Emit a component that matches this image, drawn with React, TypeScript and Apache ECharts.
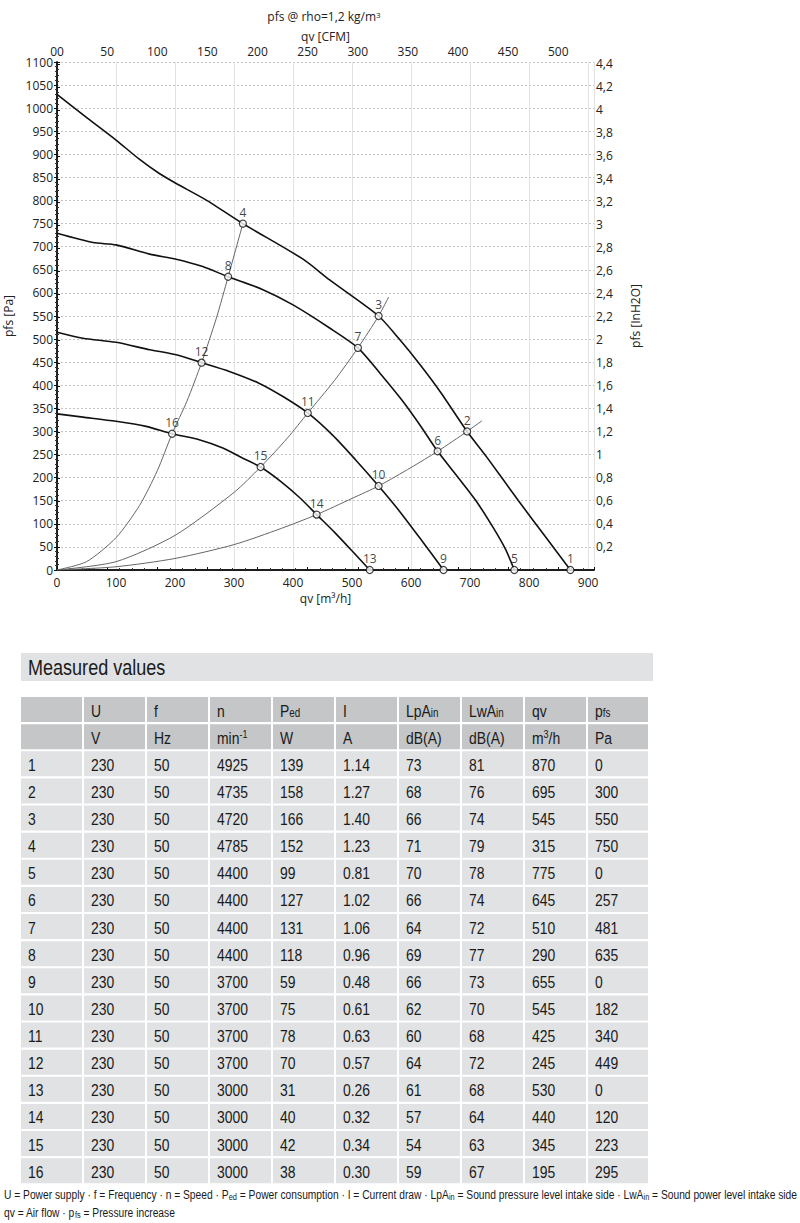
import React, { useEffect, useRef } from "react";
import * as echarts from "echarts";

// ---------- measured values (table) ----------
const pointIds = [1, 2, 3, 4, 5, 6, 7, 8, 9, 10, 11, 12, 13, 14, 15, 16];
const voltage = [230, 230, 230, 230, 230, 230, 230, 230, 230, 230, 230, 230, 230, 230, 230, 230];
const freq = [50, 50, 50, 50, 50, 50, 50, 50, 50, 50, 50, 50, 50, 50, 50, 50];
const speed = [4925, 4735, 4720, 4785, 4400, 4400, 4400, 4400, 3700, 3700, 3700, 3700, 3000, 3000, 3000, 3000];
const powerIn = [139, 158, 166, 152, 99, 127, 131, 118, 59, 75, 78, 70, 31, 40, 42, 38];
const current = ["1.14", "1.27", "1.40", "1.23", "0.81", "1.02", "1.06", "0.96", "0.48", "0.61", "0.63", "0.57", "0.26", "0.32", "0.34", "0.30"];
const lpaIn = [73, 68, 66, 71, 70, 66, 64, 69, 66, 62, 60, 64, 61, 57, 54, 59];
const lwaIn = [81, 76, 74, 79, 78, 74, 72, 77, 73, 70, 68, 72, 68, 64, 63, 67];
const airflow = [870, 695, 545, 315, 775, 645, 510, 290, 655, 545, 425, 245, 530, 440, 345, 195];
const pressure = [0, 300, 550, 750, 0, 257, 481, 635, 0, 182, 340, 449, 0, 120, 223, 295];

const headerNames = ["", "U", "f", "n", "P{s|ed}", "I", "LpA{s|in}", "LwA{s|in}", "qv", "p{s|fs}"];
const headerUnits = ["", "V", "Hz", "min{u|-1}", "W", "A", "dB(A)", "dB(A)", "m{u|3}/h", "Pa"];

// ---------- fan curves [qv m3/h, pfs Pa] ----------
const curve4925: number[][] = [
  [0, 1030], [52, 978], [100, 931], [140, 889], [174, 858], [202, 837], [253, 801], [315, 750],
  [417, 673], [462, 628], [545, 550], [580, 500], [615, 445], [650, 385], [695, 300], [728, 245],
  [782, 150], [830, 68], [870, 0],
];
const curve4400: number[][] = [
  [0, 729], [61, 709], [100, 704], [157, 684], [202, 673], [247, 657], [290, 635], [349, 607],
  [400, 574], [462, 524], [510, 481], [548, 425], [585, 367], [615, 314], [645, 257], [680, 200],
  [710, 150], [740, 90], [760, 45], [775, 0],
];
const curve3700: number[][] = [
  [0, 515], [44, 502], [100, 493], [157, 477], [202, 466], [245, 449], [292, 430], [343, 404],
  [385, 374], [425, 340], [467, 292], [505, 240], [545, 182], [580, 128], [618, 64], [655, 0],
];
const curve3000: number[][] = [
  [0, 338], [44, 331], [100, 322], [151, 311], [195, 295], [241, 282], [281, 264], [315, 242],
  [345, 223], [380, 191], [411, 157], [440, 120], [470, 82], [501, 40], [530, 0],
];
// system (resistance) curves
const system1: number[][] = [
  [0, 0], [50, 18], [100, 70], [140, 140], [170, 215], [195, 295], [220, 365], [245, 449], [270, 545], [290, 635], [315, 750],
];
const system2: number[][] = [
  [0, 0], [100, 18], [200, 75], [300, 168], [345, 223], [390, 285], [425, 340], [470, 410], [510, 481], [545, 550], [562, 591],
];
const system3: number[][] = [
  [0, 0], [100, 7], [200, 25], [300, 55], [380, 90], [440, 120], [500, 155], [545, 182], [600, 222], [645, 257], [695, 300], [720, 323],
];

const xTicksM3h = [0, 100, 200, 300, 400, 500, 600, 700, 800, 900];
const QV_MAX = 910;
const P_MAX = 1100;
const CFM_PER_M3H = 1 / 1.699;
const PA_PER_INH2O = 249.09;

const CHART_FONT = '"Open Sans", "Noto Sans", sans-serif';
const TABLE_FONT = '"Liberation Sans", Arial, sans-serif';
const NARROW = 0.82;

function isMultiple(v: number, step: number) {
  const r = v / step;
  return Math.abs(r - Math.round(r)) < 1e-6;
}

function narrowText(x: number, y: number, text: string, fontSize: number, rich?: any): any {
  return {
    type: "text", x, y, scaleX: NARROW, scaleY: 1,
    style: { text, fontSize, fontFamily: TABLE_FONT, fill: "#1a1a1a", verticalAlign: "middle", rich },
  };
}

function buildTable(): any[] {
  const els: any[] = [];
  const colX = [21, 84, 147, 210, 273, 336, 399, 462, 525, 588];
  const colW = 61;
  const rowY = (r: number) => 697 + r * 27.13;
  const rowH = 25;
  const rich = {
    s: { fontSize: 12, fontFamily: TABLE_FONT, fill: "#1a1a1a", verticalAlign: "bottom" },
    u: { fontSize: 11, fontFamily: TABLE_FONT, fill: "#1a1a1a", verticalAlign: "top" },
  };
  // title bar
  els.push({ type: "rect", shape: { x: 21, y: 653, width: 632, height: 28 }, style: { fill: "#e1e2e3" } });
  els.push(narrowText(28, 667, "Measured values", 22));
  const rows: string[][] = [headerNames, headerUnits];
  for (let i = 0; i < pointIds.length; i++) {
    rows.push([
      String(pointIds[i]), String(voltage[i]), String(freq[i]), String(speed[i]), String(powerIn[i]),
      current[i], String(lpaIn[i]), String(lwaIn[i]), String(airflow[i]), String(pressure[i]),
    ]);
  }
  rows.forEach((row, r) => {
    row.forEach((txt, c) => {
      els.push({
        type: "rect",
        shape: { x: colX[c], y: rowY(r), width: c === 9 ? 60 : colW, height: rowH },
        style: { fill: r < 2 ? "#c4c6c8" : "#e1e2e3" },
      });
      if (txt) els.push(narrowText(colX[c] + 7, rowY(r) + rowH / 2 + 1, txt, 17, rich));
    });
  });
  // footnotes
  const footRich = { s: { fontSize: 9, fontFamily: TABLE_FONT, fill: "#1a1a1a", verticalAlign: "bottom" } };
  els.push(narrowText(4, 1195,
    "U = Power supply · f = Frequency · n = Speed · P{s|ed} = Power consumption · I = Current draw · LpA{s|in} = Sound pressure level intake side · LwA{s|in} = Sound power level intake side",
    12.5, footRich));
  els.push(narrowText(4, 1213, "qv = Air flow · p{s|fs} = Pressure increase", 12.5, footRich));
  // chart title
  els.push({
    type: "text", x: 324, y: 16,
    style: {
      text: "pfs @ rho=1,2 kg/m{u|3}", fontSize: 12, fontFamily: CHART_FONT, fill: "#222",
      align: "center", verticalAlign: "middle",
      rich: { u: { fontSize: 8, fontFamily: CHART_FONT, fill: "#222", verticalAlign: "top" } },
    },
  });
  return els;
}

export default function App() {
  const ref = useRef<HTMLDivElement>(null);
  useEffect(() => {
    document.body.style.margin = "0";
    const chart = echarts.init(ref.current!, null, { renderer: "svg" });
    const axisText = { fontSize: 12, fontFamily: CHART_FONT, color: "#222" };
    const blackLine = { show: true, lineStyle: { color: "#111", width: 1.5 } };
    const speedLine = (data: number[][]) => ({
      type: "line", data, smooth: 0.25, symbol: "none", silent: true, z: 3,
      lineStyle: { color: "#111", width: 1.6 },
    });
    const sysLine = (data: number[][]) => ({
      type: "line", data, smooth: 0.25, symbol: "none", silent: true, z: 2,
      lineStyle: { color: "#666", width: 1 },
    });
    chart.setOption({
      animation: false,
      grid: { left: 57, top: 62, width: 537, height: 508, containLabel: false, outerBoundsMode: "none" },
      xAxis: [
        {
          type: "value", position: "bottom", min: 0, max: QV_MAX, interval: 100,
          axisLine: blackLine, axisTick: { show: false },
          axisLabel: { ...axisText, margin: 6, formatter: (v: number) => (xTicksM3h.includes(v) ? String(v) : "") },
          splitLine: { show: true, lineStyle: { color: "#e2e2e2", width: 1 } },
          name: "qv [m³/h]", nameLocation: "middle", nameGap: 22, nameTextStyle: axisText,
        },
        {
          type: "value", position: "top", min: 0, max: QV_MAX * CFM_PER_M3H, interval: 50,
          axisLine: blackLine,
          axisTick: { show: true, length: 3, lineStyle: { color: "#111" } },
          minorTick: { show: true, splitNumber: 4, length: 2, lineStyle: { color: "#333" } },
          axisLabel: {
            ...axisText, margin: 5, lineHeight: 12,
            formatter: (v: number) => (v === 0 ? "00" : isMultiple(v, 50) ? String(v) : ""),
          },
          splitLine: { show: false },
          name: "qv [CFM]", nameLocation: "middle", nameGap: 20, nameTextStyle: axisText,
        },
      ],
      yAxis: [
        {
          type: "value", position: "left", min: 0, max: P_MAX, interval: 50,
          axisLine: blackLine,
          axisTick: { show: true, length: 3, lineStyle: { color: "#111" } },
          minorTick: { show: true, splitNumber: 5, length: 2, lineStyle: { color: "#333" } },
          axisLabel: { ...axisText, margin: 4, lineHeight: 12, formatter: (v: number) => String(v) },
          splitLine: { show: true, lineStyle: { color: "#c4c4c4", width: 1, type: [2, 2] } },
          name: "pfs [Pa]", nameLocation: "middle", nameGap: 42, nameRotate: 90, nameTextStyle: axisText,
        },
        {
          type: "value", position: "right", min: 0, max: P_MAX / PA_PER_INH2O, interval: 0.2,
          axisLine: blackLine,
          axisTick: { show: true, length: 3, lineStyle: { color: "#111" } },
          minorTick: { show: true, splitNumber: 4, length: 2, lineStyle: { color: "#333" } },
          axisLabel: {
            ...axisText, margin: 2,
            formatter: (v: number) => (v === 0 || !isMultiple(v, 0.2) ? "" : String(Math.round(v * 10) / 10).replace(".", ",")),
          },
          splitLine: { show: false },
          name: "pfs [InH2O]", nameLocation: "middle", nameGap: 35, nameRotate: 90, nameTextStyle: axisText,
        },
      ],
      series: [
        sysLine(system1), sysLine(system2), sysLine(system3),
        speedLine(curve4925), speedLine(curve4400), speedLine(curve3700), speedLine(curve3000),
        {
          type: "scatter", z: 5, silent: true,
          data: pointIds.map((id, i) => [airflow[i], pressure[i], id]),
          symbol: "circle", symbolSize: 7,
          itemStyle: { color: "#fff", borderColor: "#111", borderWidth: 1.2 },
          label: {
            show: true, position: "top", distance: 1, fontSize: 12, fontFamily: CHART_FONT,
            color: "#111", textBorderWidth: 0,
            formatter: (p: any) => String(p.value[2]),
          },
        },
      ],
      graphic: buildTable(),
    });
    return () => chart.dispose();
  }, []);
  return <div ref={ref} style={{ position: "absolute", left: 0, top: 0, width: 800, height: 1223 }} />;
}
